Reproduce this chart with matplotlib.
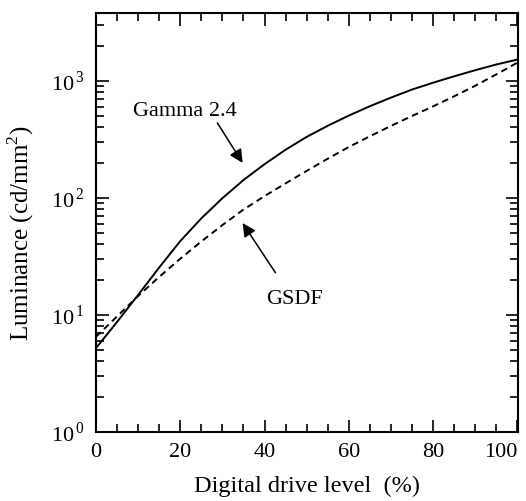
import matplotlib.pyplot as plt
import numpy as np
from matplotlib.ticker import MultipleLocator, LogLocator, NullFormatter

plt.rcParams['font.family'] = 'Liberation Serif'
plt.rcParams['mathtext.fontset'] = 'custom'
plt.rcParams['mathtext.rm'] = 'Liberation Serif'

# values (drive level in %, luminance in cd/mm^2)
drive = [0, 5, 10, 15, 20, 25, 30, 35, 40, 45, 50,
         55, 60, 65, 70, 75, 80, 85, 90, 95, 100]
lum_gamma = [5.2, 8.7, 14.8, 25.4, 42.7, 66.8, 99.3, 142, 194, 258, 332,
             413, 505, 607, 719, 843, 964, 1094, 1233, 1380, 1520]
lum_gsdf = [6.5, 9.7, 14.5, 21.1, 30.2, 42.4, 58.5, 79.4, 103.5, 133, 170,
            216, 272, 336, 412, 501, 605, 738, 908, 1135, 1430]

ytick_vals = [1, 10, 100, 1000]
ytick_labels = [r'$10^{\,0}$', r'$10^{\,1}$', r'$10^{\,2}$', r'$10^{\,3}$']
xtick_vals = [0, 20, 40, 60, 80, 100]

fig = plt.figure(figsize=(5.26, 5.01), dpi=100)
ax = fig.add_axes([0.1825, 0.138, 0.8025, 0.836])

ax.plot(drive, lum_gamma, color='black', lw=1.4)
ax.plot(drive, lum_gsdf, color='black', lw=1.4, dashes=(3.4, 2.3))

ax.set_yscale('log')
ax.set_xlim(0, 100.2)
ax.set_ylim(1, 10**3.58)

ax.set_xticks(xtick_vals)
ax.set_xticklabels([str(v) for v in xtick_vals], fontsize=16)
ax.xaxis.set_minor_locator(MultipleLocator(5))
ax.set_yticks(ytick_vals)
ax.set_yticklabels(ytick_labels, fontsize=16)
ax.yaxis.set_minor_locator(LogLocator(base=10, subs=np.arange(2, 10)))
ax.yaxis.set_minor_formatter(NullFormatter())

ax.tick_params(which='both', direction='in', top=True, right=True, width=1.2)
ax.tick_params(which='major', length=9, pad=8)
ax.tick_params(which='minor', length=6)
lbls = ax.get_xticklabels()
lbls[-1].set_horizontalalignment('right')

for s in ax.spines.values():
    s.set_linewidth(1.5)

ax.set_xlabel('Digital drive level  (%)', fontsize=17.5, labelpad=10)
ax.set_ylabel('Luminance (cd/mm$^2$)', fontsize=18, labelpad=10)
ax.yaxis.set_label_coords(-0.142, 0.475)

# labels and arrows
ax.text(21.2, 543, 'Gamma 2.4', fontsize=16, ha='center', va='center')
ax.annotate('', xy=(34.8, 199), xytext=(28.8, 438),
            arrowprops=dict(arrowstyle='-|>', color='black', lw=1.1,
                            mutation_scale=20, shrinkA=0, shrinkB=0))
ax.text(47.1, 13.4, 'GSDF', fontsize=16, ha='center', va='center')
ax.annotate('', xy=(34.8, 61), xytext=(42.6, 22.9),
            arrowprops=dict(arrowstyle='-|>', color='black', lw=1.1,
                            mutation_scale=20, shrinkA=0, shrinkB=0))

fig.savefig('out.png', dpi=100)
